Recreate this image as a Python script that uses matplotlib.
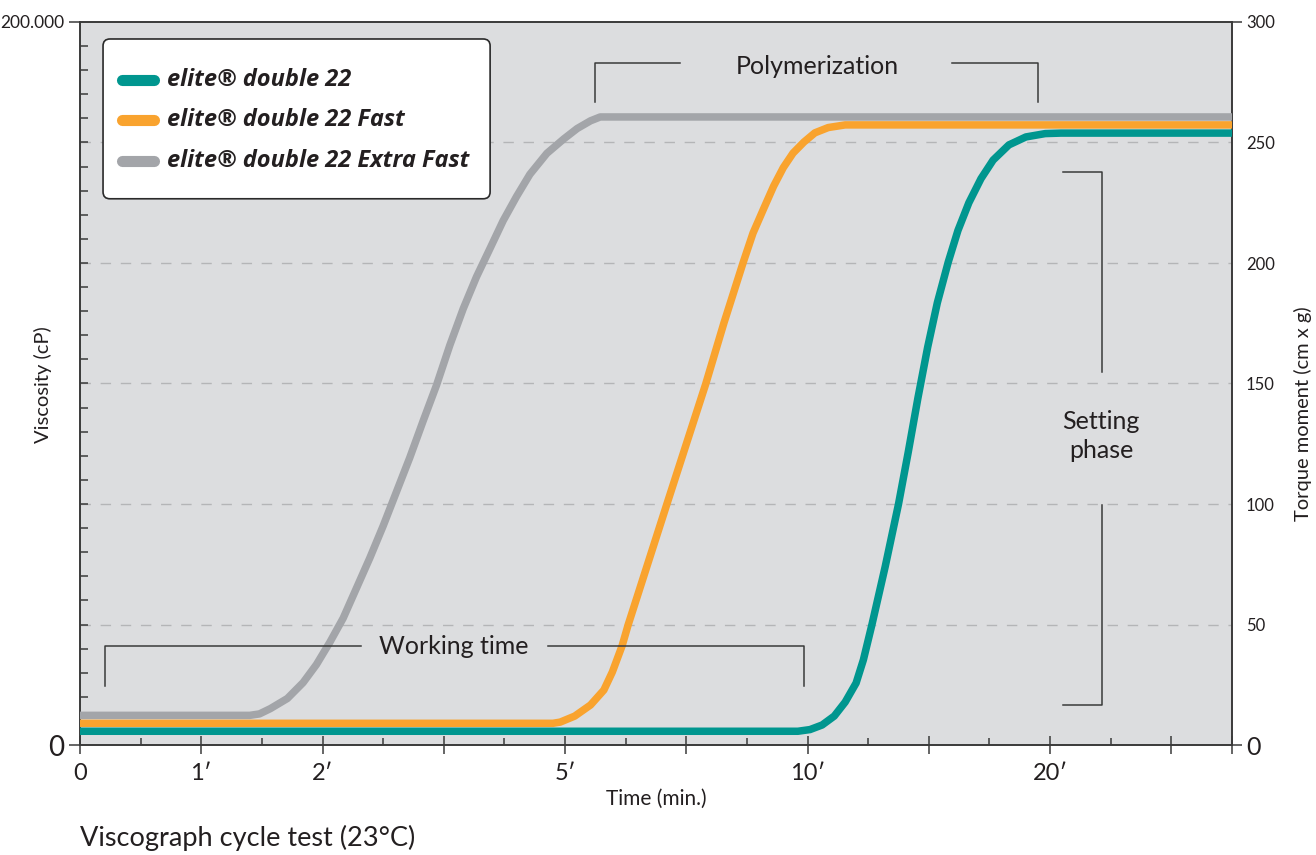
import matplotlib.pyplot as plt
from matplotlib.patches import FancyBboxPatch

plt.rcParams['font.family'] = ['Lato', 'DejaVu Sans']

# x = position on the drawn time axis (one unit per major tick), y = torque moment (cm x g)
x_ticks = [0, 1, 2, 3, 4, 5, 6, 7, 8, 9, 9.5]
x_ticklabels = ['0', '1\u2032', '2\u2032', '', '5\u2032', '', '10\u2032', '', '20\u2032', '', '']
torque_ticks = [50, 100, 150, 200, 250]

names = ['elite\u00ae double 22', 'elite\u00ae double 22 Fast', 'elite\u00ae double 22 Extra Fast']
colors = ['#00968f', '#f9a32e', '#a3a5a9']

teal_x = [0, 5.92, 6.02, 6.12, 6.22, 6.31, 6.40, 6.46, 6.53, 6.64, 6.75, 6.83, 6.91, 6.99, 7.07, 7.16,
          7.24, 7.33, 7.43, 7.53, 7.66, 7.80, 7.96, 8.09, 9.5]
teal_y = [5.7, 5.7, 6.4, 8.3, 12.0, 17.8, 25.7, 35.3, 49.8, 74.0, 100.0, 121.5, 144.0, 165.0, 183.5, 200.4,
          213.5, 225.0, 235.0, 242.7, 249.0, 252.3, 253.7, 253.9, 253.9]

orange_x = [0, 3.90, 3.96, 4.08, 4.21, 4.32, 4.39, 4.47, 4.52, 4.68, 4.84, 5.00, 5.16, 5.31, 5.47,
            5.55, 5.64, 5.72, 5.80, 5.88, 5.97, 6.06, 6.17, 6.31, 9.5]
orange_y = [9.0, 9.0, 9.5, 12.0, 16.6, 22.8, 30.3, 41.1, 49.8, 74.9, 100.0, 124.9, 149.8, 175.1, 200.4,
            212.4, 222.8, 231.9, 239.6, 245.6, 250.2, 254.0, 256.2, 257.3, 257.3]

gray_x = [0, 1.40, 1.48, 1.57, 1.71, 1.84, 1.95, 2.06, 2.17, 2.28, 2.39, 2.50, 2.61, 2.72, 2.83,
          2.94, 3.05, 3.16, 3.27, 3.38, 3.49, 3.60, 3.71, 3.85, 3.99, 4.10, 4.21, 4.29, 9.5]
gray_y = [12.3, 12.3, 12.9, 15.1, 19.3, 25.9, 33.4, 42.6, 52.6, 65.1, 77.6, 90.9, 105.1, 119.3, 134.5,
          149.3, 165.9, 181.0, 194.3, 205.9, 217.6, 227.6, 236.8, 245.5, 251.5, 255.8, 259.0, 260.6, 260.6]

series = [(teal_x, teal_y), (orange_x, orange_y), (gray_x, gray_y)]

ink = '#231f20'
axis_col = '#3a3a3a'

fig = plt.figure(figsize=(13.16, 8.55), dpi=100)
ax = fig.add_axes([80 / 1316, 110 / 855, 1152 / 1316, 723 / 855])
ax.set_facecolor('#dcdddf')
ax.set_xlim(0, 9.5)
ax.set_ylim(0, 300)

for t in torque_ticks:
    ax.axhline(t, color='#b4b5b7', lw=1, dashes=(7.5, 7), zorder=1)

for (xs, ys), c in reversed(list(zip(series, colors))):
    ax.plot(xs, ys, color=c, lw=5.4, solid_capstyle='butt', solid_joinstyle='round', zorder=3)

for s in ax.spines.values():
    s.set_color(axis_col)
    s.set_linewidth(1.4)

ax.set_xticks(x_ticks)
ax.set_xticklabels(x_ticklabels, fontsize=17, color=ink)
ax.set_xticks([i + 0.5 for i in range(9)], minor=True)
ax.tick_params(axis='x', which='major', direction='inout', length=13.5, width=1.1, color=axis_col, pad=6)
ax.tick_params(axis='x', which='minor', direction='in', length=5, width=1.1, color=axis_col)

ax.set_yticks([0, 300])
ax.set_yticklabels(['0', '200.000'], color=ink)
ax.get_yticklabels()[0].set_fontsize(20)
ax.get_yticklabels()[1].set_fontsize(12.5)
ax.set_yticks(range(10, 300, 10), minor=True)
ax.tick_params(axis='y', which='major', direction='out', length=8, width=1.1, color=axis_col, pad=3.5)
ax.tick_params(axis='y', which='minor', direction='in', length=6, width=1.1, color=axis_col)

ax2 = ax.twinx()
ax2.set_ylim(0, 300)
ax2.set_yticks([0, 300])
ax2.set_yticklabels(['0', '300'], color=ink)
ax2.get_yticklabels()[0].set_fontsize(18)
ax2.get_yticklabels()[1].set_fontsize(12)
ax2.set_yticks(torque_ticks, minor=True)
ax2.set_yticklabels([str(t) for t in torque_ticks], minor=True, fontsize=12, color=ink)
ax2.tick_params(axis='y', which='major', direction='out', length=7, width=1.1, color=axis_col, pad=3)
ax2.tick_params(axis='y', which='minor', length=0, pad=10)
for s in ax2.spines.values():
    s.set_visible(False)

ax.set_xlabel('Time (min.)', fontsize=15, color=ink, labelpad=4)
fig.text(43 / 1316, 1 - 385 / 855, 'Viscosity (cP)', fontsize=14.5, color=ink, rotation=90,
         ha='center', va='center')
fig.text(1303 / 1316, 1 - 414 / 855, 'Torque moment (cm x g)', fontsize=14.5, color=ink, rotation=90,
         ha='center', va='center')

# annotation brackets
bk = dict(color='#3a3a3a', lw=1.1, zorder=4)
ax.plot([4.25, 4.25, 4.95], [266.9, 283.1, 283.1], **bk)
ax.plot([7.19, 7.90, 7.90], [283.1, 283.1, 266.9], **bk)
ax.text(6.08, 278.4, 'Polymerization', fontsize=18, color=ink, ha='center', va='baseline', zorder=4)

ax.plot([0.21, 0.21, 2.32], [24.5, 41.1, 41.1], **bk)
ax.plot([3.86, 5.97, 5.97], [41.1, 41.1, 24.5], **bk)
ax.text(3.08, 37.6, 'Working time', fontsize=18, color=ink, ha='center', va='baseline', zorder=4)

ax.plot([8.11, 8.43, 8.43], [237.8, 237.8, 154.8], **bk)
ax.plot([8.43, 8.43, 8.11], [99.6, 16.6, 16.6], **bk)
ax.text(8.42, 128.2, 'Setting\nphase', fontsize=18, color=ink, ha='center', va='center',
        linespacing=1.3, zorder=4)

# legend box drawn by hand (wide side padding, tall rows)
box = FancyBboxPatch((0.020, 0.7555), 0.336, 0.221, transform=ax.transAxes,
                     boxstyle='round,pad=0,rounding_size=0.006', mutation_aspect=1152 / 723,
                     facecolor='white', edgecolor='#2a2a2a', lw=1.2, zorder=5)
ax.add_patch(box)
for i, (name, c) in enumerate(zip(names, colors)):
    yy = 0.9198 - i * 0.0560
    ax.plot([0.0365, 0.0645], [yy, yy], transform=ax.transAxes, color=c, lw=8,
            solid_capstyle='round', zorder=6, clip_on=False)
    ax.text(0.0755, yy, name, transform=ax.transAxes, fontsize=17, fontweight='bold',
            style='italic', family=['Open Sans', 'DejaVu Sans'], color=ink,
            va='center', ha='left', zorder=6)

fig.text(80 / 1316, 17 / 855, 'Viscograph cycle test (23\u00b0C)', fontsize=19.5, color=ink,
         ha='left', va='center')

fig.savefig('out.png', dpi=100)
